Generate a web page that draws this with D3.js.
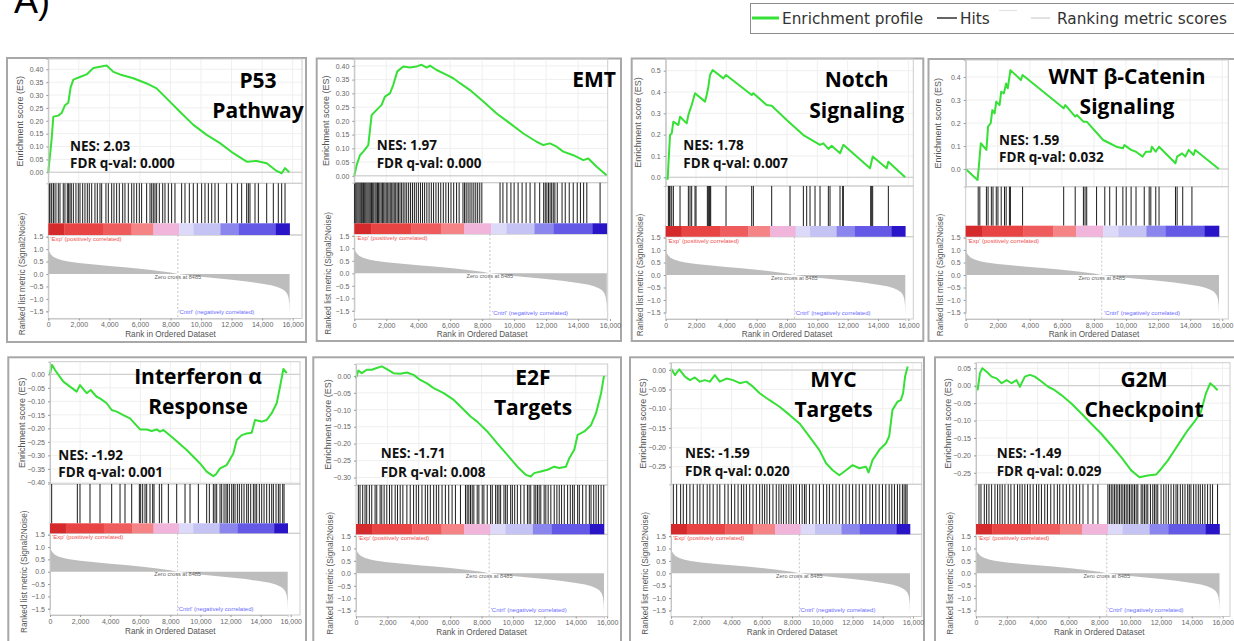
<!DOCTYPE html>
<html><head><meta charset="utf-8">
<script src="https://cdn.jsdelivr.net/npm/d3@7"></script>
<style>body{margin:0;background:#fff;}svg{display:block;}</style>
</head><body>
<svg id="chart" width="1234" height="641"></svg>
<script>
// ---------------- DATA ----------------
const panelTitles = [["P53","Pathway"],["EMT"],["Notch","Signaling"],["WNT β-Catenin","Signaling"],
  ["Interferon α","Response"],["E2F","Targets"],["MYC","Targets"],["G2M","Checkpoint"]];
const nesValues = ["2.03","1.97","1.78","1.59","-1.92","-1.71","-1.59","-1.49"];
const fdrValues = ["0.000","0.000","0.007","0.032","0.001","0.008","0.020","0.029"];

const xTickValues = [0,2000,4000,6000,8000,10000,12000,14000,16000];
const metricTickValues = [1.5,1.0,0.5,0.0,-0.5,-1.0,-1.5];
const esTicksP53 = [0,0.05,0.10,0.15,0.20,0.25,0.30,0.35,0.40];
const esTicksEMT = [0,0.05,0.10,0.15,0.20,0.25,0.30,0.35,0.40];
const esTicksNotch = [0,0.1,0.2,0.3,0.4,0.5];
const esTicksWNT = [0,0.1,0.2,0.3,0.4];
const esTicksIFN = [0,-0.05,-0.10,-0.15,-0.20,-0.25,-0.30,-0.35,-0.40];
const esTicksE2F = [0,-0.05,-0.10,-0.15,-0.20,-0.25,-0.30];
const esTicksMYC = [0,-0.05,-0.10,-0.15,-0.20,-0.25];
const esTicksG2M = [0.05,0,-0.05,-0.10,-0.15,-0.20,-0.25];
const esTickFormats = [".2f",".2f",".1f",".1f",".2f",".2f",".2f",".2f"];

// ranked list metric (same ranked list for every gene set)
const metricRanks = [0,50,150,300,550,900,1300,2000,3000,4000,5000,6000,7000,8000,8485,9000,10000,11000,12000,13000,14000,14600,15000,15300,15500,15650,15730,15780,15800];
const metricValues = [0.97,0.9,0.8,0.7,0.62,0.55,0.5,0.44,0.38,0.32,0.27,0.21,0.14,0.06,0.0,-0.04,-0.11,-0.17,-0.23,-0.3,-0.39,-0.45,-0.52,-0.6,-0.68,-0.8,-0.95,-1.2,-1.6];
const zeroCross = 8485;
const colorBarBreaks = [0,1050,3580,5450,6880,8570,9520,11270,12480,14900,15800];

// enrichment score running sums [rank, ES]
const esP53 = [[0,0],[65,0.04],[220,0.13],[330,0.216],[650,0.22],[870,0.23],[1090,0.26],[1310,0.27],[1460,0.33],[1640,0.36],[2070,0.37],[2510,0.38],[2950,0.405],[3380,0.41],[3820,0.415],[4260,0.39],[4690,0.38],[5570,0.365],[6440,0.345],[7090,0.326],[7750,0.287],[8620,0.235],[9500,0.184],[10370,0.145],[11240,0.113],[12115,0.074],[12990,0.041],[13640,0.044],[14300,0.035],[14950,0.005],[15280,-0.004],[15500,0.016],[15780,0]];
const esEMT = [[0,0],[146,0.039],[355,0.075],[563,0.088],[876,0.112],[1085,0.221],[1398,0.24],[1710,0.258],[1919,0.288],[2232,0.30],[2440,0.331],[2690,0.38],[3066,0.398],[3483,0.394],[3900,0.398],[4214,0.404],[4527,0.394],[4735,0.401],[5152,0.385],[5778,0.367],[6195,0.355],[6612,0.337],[7238,0.312],[8073,0.27],[8907,0.227],[9741,0.191],[10576,0.154],[11410,0.124],[11827,0.112],[12244,0.118],[12662,0.106],[13079,0.088],[13705,0.075],[14331,0.057],[14644,0.063],[15165,0.033],[15790,0.002]];
const esNotch = [[0,0],[132,-0.008],[176,0.058],[286,0.198],[396,0.206],[505,0.261],[835,0.245],[945,0.284],[1385,0.253],[1495,0.292],[1604,0.316],[1714,0.339],[1934,0.394],[2594,0.355],[2704,0.386],[2813,0.425],[2923,0.48],[3099,0.503],[3802,0.464],[3978,0.48],[5671,0.386],[5780,0.394],[6660,0.339],[6990,0.336],[7979,0.269],[9078,0.198],[10177,0.152],[10396,0.159],[10726,0.133],[10946,0.148],[11495,0.1125],[11715,0.152],[13473,0.042],[13649,0.097],[14572,0.042],[14682,0.073],[15790,0]];
const esWNT = [[0,0],[738,-0.048],[820,0.01],[943,0.112],[1292,0.083],[1395,0.184],[1559,0.199],[1661,0.256],[1805,0.242],[1907,0.293],[2112,0.278],[2215,0.336],[2379,0.329],[2523,0.372],[2625,0.351],[2789,0.43],[3446,0.387],[3548,0.409],[6112,0.264],[6215,0.278],[6830,0.228],[6932,0.235],[7342,0.206],[7547,0.206],[8573,0.126],[8983,0.112],[9393,0.097],[9803,0.09],[9906,0.104],[10316,0.083],[10623,0.075],[11034,0.054],[11239,0.075],[11547,0.075],[11608,0.097],[11854,0.075],[12059,0.097],[13085,0.025],[13188,0.054],[13495,0.068],[13700,0.054],[13906,0.083],[14213,0.061],[14316,0.083],[15790,0]];
const esIFN = [[0,0],[133,0.035],[332,0.016],[886,-0.027],[1773,-0.064],[1994,-0.04],[2438,-0.07],[2704,-0.058],[3102,-0.083],[3324,-0.089],[3767,-0.107],[4100,-0.132],[4432,-0.138],[4875,-0.151],[5318,-0.163],[5983,-0.204],[6426,-0.204],[6759,-0.21],[7091,-0.204],[7313,-0.212],[7534,-0.206],[8199,-0.237],[9086,-0.28],[9972,-0.33],[10415,-0.36],[10858,-0.377],[11036,-0.37],[11302,-0.348],[11745,-0.336],[12188,-0.293],[12410,-0.243],[12742,-0.225],[13074,-0.219],[13406,-0.216],[13628,-0.169],[14072,-0.175],[14404,-0.169],[14736,-0.144],[15068,-0.107],[15290,-0.046],[15512,0.02],[15734,0.004]];
const esE2F = [[0,-0.007],[149,0.016],[363,0.008],[683,0.018],[1003,0.018],[1322,0.023],[1642,0.028],[1962,0.02],[2389,0.008],[2816,0.006],[3242,0.01],[3669,0.003],[4095,-0.012],[4522,-0.022],[4949,-0.036],[5588,-0.051],[6228,-0.071],[6868,-0.1],[7295,-0.12],[7721,-0.135],[8361,-0.164],[9001,-0.199],[9641,-0.233],[10281,-0.268],[10814,-0.292],[11134,-0.297],[11348,-0.287],[11774,-0.282],[12201,-0.277],[12628,-0.268],[12948,-0.272],[13374,-0.268],[13588,-0.243],[13907,-0.218],[14121,-0.174],[14548,-0.164],[14974,-0.145],[15294,-0.11],[15614,-0.051],[15800,0]];
const esMYC = [[0,0.004],[263,-0.013],[549,0.002],[922,-0.017],[1251,-0.026],[1580,-0.019],[1910,-0.03],[2239,-0.026],[2568,-0.03],[2897,-0.013],[3227,-0.03],[3666,-0.022],[4105,-0.026],[4544,-0.034],[4983,-0.03],[5422,-0.043],[5861,-0.06],[6519,-0.078],[7178,-0.095],[7836,-0.116],[8495,-0.138],[9153,-0.172],[9812,-0.207],[10251,-0.241],[10690,-0.259],[11129,-0.272],[11568,-0.259],[12007,-0.246],[12446,-0.254],[12885,-0.25],[13060,-0.265],[13323,-0.233],[13763,-0.207],[14202,-0.19],[14421,-0.172],[14641,-0.103],[14970,-0.082],[15190,-0.078],[15343,-0.06],[15475,-0.017],[15650,0.009]];
const esG2M = [[0,0],[108,-0.011],[259,0.036],[410,0.05],[690,0.04],[1013,0.026],[1337,0.021],[1660,0.007],[1984,0.016],[2307,0.007],[2631,0.016],[2846,-0.003],[3169,0.026],[3493,0.031],[3816,0.026],[4247,0.012],[4679,-0.003],[5110,-0.013],[5541,-0.027],[6188,-0.051],[6835,-0.08],[7481,-0.109],[8128,-0.138],[8775,-0.171],[9422,-0.205],[10068,-0.243],[10607,-0.263],[11146,-0.258],[11685,-0.255],[12009,-0.239],[12440,-0.215],[12871,-0.186],[13302,-0.157],[13734,-0.128],[14165,-0.104],[14596,-0.075],[14919,-0.022],[15200,0.007],[15459,-0.003],[15674,-0.013]];

// hit positions (rank of each gene set member)
const hitsP53 = [65,110,220,330,370,500,655,765,980,1090,1245,1330,1420,1505,1640,1810,1965,2075,2250,2400,2555,2685,2840,3055,3210,3385,3495,3775,3930,4150,4300,4475,4650,4870,5020,5240,5460,5610,5785,5960,6110,6440,6660,6770,6875,6985,7095,7270,7490,7640,7860,8075,8295,8730,8950,9235,9495,9760,10040,10260,10480,10700,10915,11135,11680,12005,12380,12660,12990,13100,13205,13535,13755,14300,14735,15060,15280,15500];
const hitsEMT = [20,90,160,230,300,370,440,500,580,650,720,790,860,930,1000,1080,1150,1220,1300,1370,1450,1520,1600,1680,1760,1840,1920,2000,2090,2170,2250,2340,2420,2500,2590,2680,2770,2860,2960,3060,3170,3280,3400,3520,3640,3760,3880,4010,4140,4270,4400,4540,4680,4820,4960,5110,5260,5410,5570,5730,5890,6050,6220,6400,6560,6800,6900,7000,7120,7240,7360,7480,7600,7720,7850,7980,9120,9300,9550,9800,10000,10250,10500,10750,11000,11300,11600,11850,11950,12050,12150,12250,12350,12450,12550,12700,13000,13200,13450,13700,13950,14150,14350,14550,15380];
const hitsNotch = [176,242,286,396,505,945,1495,1604,1714,1934,2000,2748,2813,2879,2923,2967,3978,5671,5780,6989,8198,9078,9297,9517,9847,10177,10726,10836,11495,11671,11715,13517,13583,13649,14682];
const hitsWNT = [779,882,1292,1395,1600,1702,1907,2010,2215,2420,2523,2728,2789,3548,6112,6830,7343,7445,7548,8163,8676,8983,9393,9804,10009,10317,10624,11137,11445,11547,11855,12060,13085,13188,13537,14111];
const hitsIFN = [111,1817,1994,2659,3324,4100,4654,4986,5429,5939,6028,6160,6316,6426,6648,6825,6914,7269,7424,7867,8421,8975,9307,9861,10415,10592,10858,10969,11080,11302,11413,11568,11700,11789,11922,12077,12188,12299,12454,12587,12742,12897,13074,13185,13340,13518,13628,13739,13916,14071,14227,14404,14581,14736,14847,15024,15180,15290,15468,15557];
const hitsE2F = [149,256,427,576,683,853,1003,1216,1322,1536,1642,1792,1962,2133,2282,2496,2645,2816,2986,3242,3455,3669,3839,3989,4202,4415,4565,4735,4949,5119,5269,5482,5695,5908,6122,6335,6655,6975,7082,7188,7295,7402,7508,7721,7828,8041,8148,8361,8575,8681,8895,9001,9108,9215,9428,9535,9641,9854,9961,10110,10281,10494,10708,10921,11028,11134,11348,11454,11561,11668,11774,11987,12094,12243,12414,12628,12798,12948,13097,13268,13481,13652,13801,13908,14121,14228,14441,14654,14867,14974,15145,15294,15443,15614,15785];
const hitsMYC = [154,373,637,812,1032,1251,1471,1734,1910,2129,2393,2568,2788,3051,3227,3556,3775,3995,4214,4434,4653,4807,4983,5202,5422,5641,5861,6036,6190,6344,6519,6739,6958,7134,7287,7441,7617,7792,7946,8100,8275,8495,8670,8824,8934,9153,9373,9592,9812,10075,10295,10470,10690,10909,11129,11348,11568,11787,12007,12226,12446,12665,12885,13148,13323,13543,13763,13982,14202,14421,14597,14772,14970,15124,15299,15409,15519,15607];
const hitsG2M = [194,323,539,690,841,1013,1229,1401,1552,1703,1876,2091,2264,2479,2695,2846,2997,3169,3342,3514,3708,3924,4075,4247,4463,4635,4851,5067,5282,5433,5649,5864,6080,6296,6511,6727,6943,7266,7589,7913,8560,8667,8775,8883,8991,9099,9206,9314,9422,9530,9638,9745,9853,9961,10069,10177,10284,10392,10500,10716,10823,10931,11039,11147,11319,11470,11578,11686,11794,12009,12181,12332,12483,12656,12828,12979,13087,13259,13410,13561,13734,13841,13949,14122,14273,14424,14553,14704,14855,15027,15200,15351,15674];

const legendLabels = ["Enrichment profile","Hits","Ranking metric scores"];

// ---------------- STYLE / LAYOUT ----------------
const colorBarColors = ["#d42a2c","#e94444","#ef5c5e","#f48486","#f1b4da","#dcdaf8","#c5c2f4","#8a86ee","#6458e6","#2a14c8"];
const esColor = "#36e036";
const layouts = [
 {frame:[7,58,306,342], x0:48.3, xEnd:289.6, right:302, esTop:59, esBot:183.3, barTop:223.3, barBot:235, mZero:274, mUnit:24.9, axisY:318.5, xTitleY:337, esLo:-0.043, esHi:0.44, titleX:258, titleY:[88,118], nesX:70, nesY:[151,168.3]},
 {frame:[316.7,58.5,621,341], x0:354.3, xEnd:606.8, right:607.7, esTop:59, esBot:182.7, barTop:223.3, barBot:234, mZero:273.3, mUnit:25, axisY:319, xTitleY:337, esLo:-0.025, esHi:0.425, titleX:594, titleY:[87], nesX:376.7, nesY:[150,167.7]},
 {frame:[631.7,58.5,923.3,341], x0:665.7, xEnd:905.3, right:913.3, esTop:59, esBot:186, barTop:226, barBot:236.7, mZero:275, mUnit:25, axisY:319, xTitleY:337, esLo:-0.041, esHi:0.555, titleX:856.7, titleY:[87,118], nesX:683.3, nesY:[150,168.3]},
 {frame:[928.5,59,1240,341], x0:965.7, xEnd:1219, right:1228.3, esTop:60, esBot:186.7, barTop:225.7, barBot:236.7, mZero:275, mUnit:25, axisY:319, xTitleY:337, esLo:-0.077, esHi:0.474, titleX:1127, titleY:[83.5,113.5], nesX:999, nesY:[145,162.3]},
 {frame:[8.3,357.3,306,650], x0:50, xEnd:287.7, right:300, esTop:361.7, esBot:484, barTop:523.3, barBot:533.3, mZero:571.7, mUnit:24.7, axisY:615, xTitleY:634, esLo:-0.406, esHi:0.0467, titleX:198, titleY:[383.5,413.5], nesX:58.3, nesY:[460,477.3]},
 {frame:[313.3,357.3,621,650], x0:356, xEnd:604, right:607.7, esTop:364, esBot:485, barTop:524, barBot:534.3, mZero:573.3, mUnit:24.9, axisY:616.5, xTitleY:634.5, esLo:-0.322, esHi:0.035, titleX:533, titleY:[385,415], nesX:380.7, nesY:[458.3,476.7]},
 {frame:[630,357.3,924,650], x0:671, xEnd:910, right:921.7, esTop:362.7, esBot:484.3, barTop:524, barBot:534.3, mZero:573.3, mUnit:24.8, axisY:616.5, xTitleY:634.5, esLo:-0.2955, esHi:0.019, titleX:833.5, titleY:[387,416.7], nesX:685, nesY:[458.3,476]},
 {frame:[935,357.3,1240,650], x0:976, xEnd:1219.5, right:1230, esTop:362.7, esBot:484.3, barTop:524, barBot:534.3, mZero:573.3, mUnit:24.8, axisY:616.5, xTitleY:634.5, esLo:-0.283, esHi:0.066, titleX:1144, titleY:[386.7,416.7], nesX:996.7, nesY:[458.3,476]}
];

const esSeries = [esP53,esEMT,esNotch,esWNT,esIFN,esE2F,esMYC,esG2M];
const hitSeries = [hitsP53,hitsEMT,hitsNotch,hitsWNT,hitsIFN,hitsE2F,hitsMYC,hitsG2M];
const esTickSets = [esTicksP53,esTicksEMT,esTicksNotch,esTicksWNT,esTicksIFN,esTicksE2F,esTicksMYC,esTicksG2M];

const svg = d3.select("#chart");
const AX_FONT = "'Liberation Sans', Arial, sans-serif";
const BOLD_FONT = "'Open Sans', 'Noto Sans', sans-serif";

function styleAxis(sel){
  sel.attr("font-size",7).attr("font-family",AX_FONT);
  sel.select(".domain").attr("stroke","#c4c4c4");
  sel.selectAll(".tick line").attr("stroke","#999");
  sel.selectAll(".tick text").attr("fill","#666");
}

const metricData = metricRanks.map((r,i)=>[r,metricValues[i]]);

function drawPanel(i){
  const L = layouts[i];
  const g = svg.append("g");
  g.append("rect").attr("x",L.frame[0]).attr("y",L.frame[1])
    .attr("width",L.frame[2]-L.frame[0]).attr("height",L.frame[3]-L.frame[1])
    .attr("fill","#fff").attr("stroke","#a8a8a8").attr("stroke-width",2);

  const x = d3.scaleLinear().domain([0,15800]).range([L.x0,L.xEnd]);
  const yES = d3.scaleLinear().domain([L.esLo,L.esHi]).range([L.esBot,L.esTop]);
  const yM = d3.scaleLinear().domain([-1.5,1.5]).range([L.mZero+1.5*L.mUnit, L.mZero-1.5*L.mUnit]);
  const W = L.right - L.x0;

  // ES grid
  const grid = g.append("g").attr("stroke","#efefef").attr("stroke-width",1);
  grid.selectAll("line.v").data(xTickValues.filter(t=>t>0 && x(t)<L.right)).join("line")
    .attr("x1",d=>x(d)).attr("x2",d=>x(d)).attr("y1",L.esTop).attr("y2",L.esBot);
  grid.selectAll("line.h").data(esTickSets[i]).join("line")
    .attr("x1",L.x0).attr("x2",L.right).attr("y1",d=>yES(d)).attr("y2",d=>yES(d));
  g.append("line").attr("x1",L.x0).attr("x2",L.right).attr("y1",yES(0)).attr("y2",yES(0))
    .attr("stroke","#c8c8c8").attr("stroke-width",1);

  // frames of the three stacked plots
  const fr = g.append("g").attr("fill","none").attr("stroke","#cdcdcd").attr("stroke-width",1);
  fr.append("rect").attr("x",L.x0).attr("y",L.esTop).attr("width",W).attr("height",L.esBot-L.esTop);
  fr.append("rect").attr("x",L.x0).attr("y",L.esBot).attr("width",W).attr("height",L.barBot-L.esBot);
  fr.append("rect").attr("x",L.x0).attr("y",L.barBot).attr("width",W).attr("height",L.axisY-L.barBot);

  // hits
  g.append("g").selectAll("line").data(hitSeries[i]).join("line")
    .attr("x1",d=>x(d)).attr("x2",d=>x(d)).attr("y1",L.esBot).attr("y2",L.barTop)
    .attr("stroke","#1c1c1c").attr("stroke-width",1);

  // colour bar
  g.append("g").selectAll("rect").data(colorBarColors).join("rect")
    .attr("x",(d,k)=>x(colorBarBreaks[k])).attr("y",L.barTop)
    .attr("width",(d,k)=>x(colorBarBreaks[k+1])-x(colorBarBreaks[k])+0.3)
    .attr("height",L.barBot-L.barTop).attr("fill",d=>d);

  // ranked metric
  g.append("path").datum(metricData)
    .attr("d",d3.area().x(d=>x(d[0])).y0(yM(0)).y1(d=>yM(d[1])))
    .attr("fill","#bdbdbd");
  g.append("line").attr("x1",x(zeroCross)).attr("x2",x(zeroCross)).attr("y1",L.barBot).attr("y2",L.axisY)
    .attr("stroke","#b8b8b8").attr("stroke-dasharray","2,2").attr("stroke-width",0.8);
  g.append("text").attr("x",x(zeroCross)).attr("y",L.mZero+4.5).attr("text-anchor","middle")
    .attr("font-size",5.6).attr("font-family",AX_FONT).attr("fill","#666").text("Zero cross at "+zeroCross);
  g.append("text").attr("x",L.x0+2).attr("y",L.barBot+5.8)
    .attr("font-size",6).attr("font-family",AX_FONT).attr("fill","#f05050").text("'Exp' (positively correlated)");
  g.append("text").attr("x",x(11000)).attr("y",L.axisY-4.5).attr("text-anchor","middle")
    .attr("font-size",6).attr("font-family",AX_FONT).attr("fill","#6b6bff").text("'Cntrl' (negatively correlated)");

  // ES curve
  g.append("path").datum(esSeries[i])
    .attr("d",d3.line().x(d=>x(d[0])).y(d=>yES(d[1])))
    .attr("fill","none").attr("stroke",esColor).attr("stroke-width",2).attr("stroke-linejoin","round");

  // axes
  g.append("g").attr("transform",`translate(${L.x0},0)`)
    .call(d3.axisLeft(yES).tickValues(esTickSets[i]).tickFormat(d3.format(esTickFormats[i])).tickSize(2).tickPadding(3))
    .call(styleAxis);
  g.append("g").attr("transform",`translate(${L.x0},0)`)
    .call(d3.axisLeft(yM).tickValues(metricTickValues).tickFormat(d3.format(".1f")).tickSize(2).tickPadding(3))
    .call(styleAxis);
  g.append("g").attr("transform",`translate(0,${L.axisY})`)
    .call(d3.axisBottom(x).tickValues(xTickValues).tickFormat(d3.format(",")).tickSize(2).tickPadding(2))
    .call(styleAxis);

  // axis titles
  const ex = L.x0-25;
  g.append("text").attr("transform",`translate(${ex},${(L.esTop+L.esBot)/2}) rotate(-90)`)
    .attr("text-anchor","middle").attr("font-size",9).attr("font-family",AX_FONT).attr("fill","#555")
    .text("Enrichment score (ES)");
  g.append("text").attr("transform",`translate(${L.x0-23},${L.mZero}) rotate(-90)`)
    .attr("text-anchor","middle").attr("font-size",8.3).attr("font-family",AX_FONT).attr("fill","#555")
    .text("Ranked list metric (Signal2Noise)");
  g.append("text").attr("x",(x(0)+x(16000))/2).attr("y",L.xTitleY).attr("text-anchor","middle")
    .attr("font-size",8.2).attr("font-family",AX_FONT).attr("fill","#555").text("Rank in Ordered Dataset");

  // NES / FDR annotation
  g.append("text").attr("x",L.nesX).attr("y",L.nesY[0]).attr("font-size",13.5).attr("font-weight",700)
    .attr("font-family",BOLD_FONT).attr("fill","#111").text("NES: "+nesValues[i]);
  g.append("text").attr("x",L.nesX).attr("y",L.nesY[1]).attr("font-size",13.5).attr("font-weight",700)
    .attr("font-family",BOLD_FONT).attr("fill","#111").text("FDR q-val: "+fdrValues[i]);

  // gene set title
  panelTitles[i].forEach((t,k)=>{
    g.append("text").attr("x",L.titleX).attr("y",L.titleY[k]).attr("text-anchor","middle")
      .attr("font-size",21).attr("font-weight",700).attr("font-family",BOLD_FONT).attr("fill","#000").text(t);
  });
}

for(let i=0;i<8;i++) drawPanel(i);

// figure label
svg.append("text").attr("x",14).attr("y",13).attr("font-size",36).attr("font-family",AX_FONT).attr("fill","#000").text("A)");

// legend
const lg = svg.append("g");
lg.append("rect").attr("x",750.5).attr("y",3.5).attr("width",495).attr("height",30)
  .attr("fill","#fff").attr("stroke","#8c8c8c").attr("stroke-width",1);
lg.append("line").attr("x1",752).attr("x2",779).attr("y1",18).attr("y2",18).attr("stroke",esColor).attr("stroke-width",3);
lg.append("text").attr("x",782).attr("y",23.5).attr("font-size",15.3).attr("font-family","'DejaVu Sans', sans-serif").attr("fill","#333").text(legendLabels[0]);
lg.append("line").attr("x1",937).attr("x2",957).attr("y1",18).attr("y2",18).attr("stroke","#111").attr("stroke-width",1.3);
lg.append("text").attr("x",960).attr("y",23.5).attr("font-size",15.3).attr("font-family","'DejaVu Sans', sans-serif").attr("fill","#333").text(legendLabels[1]);
lg.append("line").attr("x1",999).attr("x2",1017).attr("y1",10.5).attr("y2",10.5).attr("stroke","#e2e2e2").attr("stroke-width",1);
lg.append("line").attr("x1",1031).attr("x2",1050).attr("y1",18).attr("y2",18).attr("stroke","#c4c4c4").attr("stroke-width",1);
lg.append("text").attr("x",1057).attr("y",23.5).attr("font-size",15.3).attr("font-family","'DejaVu Sans', sans-serif").attr("fill","#333").text(legendLabels[2]);
</script>
</body></html>
